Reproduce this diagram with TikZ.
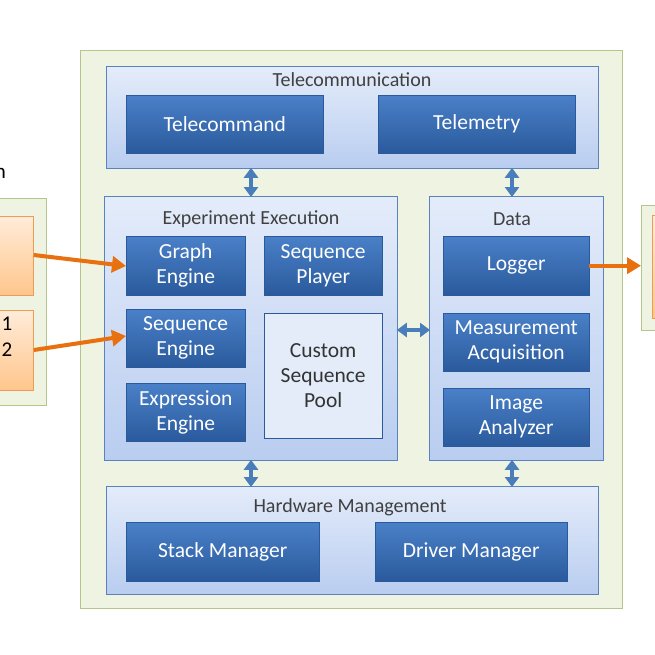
\documentclass[tikz,border=0pt]{standalone}
\usepackage{fontspec}
\setmainfont{Carlito}
\usetikzlibrary{arrows.meta}
\definecolor{gfill}{HTML}{EEF3E2}
\definecolor{gline}{HTML}{B3C68C}
\definecolor{pline}{HTML}{5A82C0}
\definecolor{ptop}{HTML}{E4ECFA}
\definecolor{pbot}{HTML}{B9CDF0}
\definecolor{btop}{HTML}{4A80C8}
\definecolor{bbot}{HTML}{2A5A9C}
\definecolor{orng}{HTML}{E8700E}
\definecolor{dia}{HTML}{4A7EBB}
\tikzset{
 green/.style={draw=gline,fill=gfill,line width=1pt},
 panel/.style={draw=pline,line width=0.8pt,top color=ptop,bottom color=pbot},
 blk/.style={draw=bbot,top color=btop,bottom color=bbot,text=white,font=\fontsize{21.5}{25}\selectfont,align=center,inner sep=0},
 pool/.style={draw=bbot,fill=ptop,text=black!80,font=\fontsize{21.5}{25}\selectfont,align=center,inner sep=0},
 ttl/.style={text=black!75,font=\fontsize{20}{23}\selectfont,inner sep=0},
 ora/.style={draw=orng!70,line width=0.8pt,top color=orange!15,bottom color=orange!45},
 oarr/.style={draw=orng,line width=4pt,-{Triangle[length=14pt,width=16pt]}},
 dbl/.style={draw=dia,line width=4pt,{Triangle[length=10pt,width=14pt]}-{Triangle[length=10pt,width=14pt]},shorten <=-1pt,shorten >=-1pt}
}
\begin{document}
\begin{tikzpicture}[x=1pt,y=-1pt]
\useasboundingbox (0,0) rectangle (655,655);
\fill[white] (0,0) rectangle (655,655);
\node[green,minimum width=542,minimum height=558,anchor=north west,inner sep=0] (outer) at (80,50) {};
\node[green,minimum width=56,minimum height=207,anchor=north west,inner sep=0] (lg) at (-10,198) {};
\node[ora,minimum width=43,minimum height=79,anchor=north west,inner sep=0] (o1) at (-10,216) {};
\node[ora,minimum width=43,minimum height=80,anchor=north west,inner sep=0] (o2) at (-10,310) {};
\node[ttl,font=\fontsize{21}{24}\selectfont,text=black] (n1) at (7,324) {1};
\node[ttl,font=\fontsize{21}{24}\selectfont,text=black] (n2) at (7,350) {2};
\node[ttl,font=\fontsize{21}{24}\selectfont,text=black,anchor=east] (nn) at (6,173) {n};
\node[green,minimum width=30,minimum height=125,anchor=north west,inner sep=0] (rg) at (641,205) {};
\node[ora,minimum width=20,minimum height=103,anchor=north west,inner sep=0] (o3) at (652,215) {};
\node[panel,minimum width=492,minimum height=102,anchor=north west,inner sep=0] (tc) at (106,66) {};
\node[ttl] (tct) at (352,80) {Telecommunication};
\node[panel,minimum width=293,minimum height=264,anchor=north west,inner sep=0] (ee) at (104,196) {};
\node[ttl] (eet) at (251,219) {Experiment Execution};
\node[panel,minimum width=174,minimum height=264,anchor=north west,inner sep=0] (da) at (429,196) {};
\node[ttl] (dat) at (512,219) {Data};
\node[panel,minimum width=492,minimum height=108,anchor=north west,inner sep=0] (hw) at (106,486) {};
\node[ttl] (hwt) at (350,507) {Hardware Management};
\node[blk,minimum width=197,minimum height=58,anchor=north west] (tcm) at (126,95) {Telecommand};
\node[blk,minimum width=197,minimum height=58,anchor=north west] (tlm) at (378,95) {Telemetry};
\node[blk,minimum width=119,minimum height=59,anchor=north west] (ge) at (126,236) {Graph\\Engine};
\node[blk,minimum width=118,minimum height=59,anchor=north west] (sp) at (264,236) {Sequence\\Player};
\node[blk,minimum width=119,minimum height=58,anchor=north west] (se) at (126,309) {Sequence\\Engine};
\node[blk,minimum width=119,minimum height=58,anchor=north west] (xe) at (126,383) {Expression\\Engine};
\node[pool,minimum width=118,minimum height=125,anchor=north west] (csp) at (264,313) {Custom\\Sequence\\Pool};
\node[blk,minimum width=146,minimum height=59,anchor=north west] (lo) at (443,236) {Logger};
\node[blk,minimum width=146,minimum height=58,anchor=north west] (ma) at (443,313) {Measurement\\Acquisition};
\node[blk,minimum width=146,minimum height=58,anchor=north west] (ia) at (443,388) {Image\\Analyzer};
\node[blk,minimum width=193,minimum height=59,anchor=north west] (sm) at (126,522) {Stack Manager};
\node[blk,minimum width=192,minimum height=59,anchor=north west] (dm) at (375,522) {Driver Manager};
\draw[dbl] (tc.south -| 251,0) -- (ee.north -| 251,0);
\draw[dbl] (tc.south -| 512,0) -- (da.north -| 512,0);
\draw[dbl] (ee.east |- 0,330) -- (da.west |- 0,330);
\draw[dbl] (ee.south -| 251,0) -- (hw.north -| 251,0);
\draw[dbl] (da.south -| 512,0) -- (hw.north -| 512,0);
\draw[oarr] (o1.east |- 0,255) -- (ge.west |- 0,266);
\draw[oarr] (o2.east |- 0,350) -- (se.west |- 0,336);
\draw[oarr] (lo.east) -- (rg.west |- lo.east);
\end{tikzpicture}
\end{document}
